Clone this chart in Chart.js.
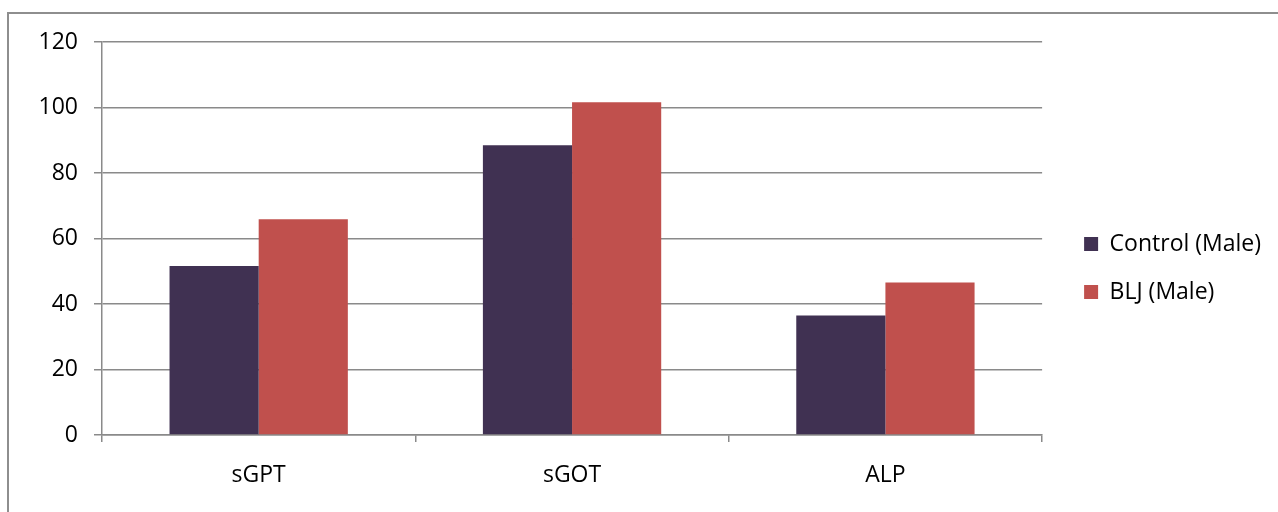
<!DOCTYPE html>
<html>
<head>
<meta charset="utf-8">
<script src="https://cdn.jsdelivr.net/npm/chart.js@4/dist/chart.umd.min.js"></script>
<style>
  body { margin: 0; background: #fff; }
  #frame { position: absolute; left: 7px; top: 12px; width: 1300px; height: 600px; border: 2px solid #8e8e8e; }
  #wrap { position: absolute; left: 0; top: 0; width: 1278px; height: 512px; }
</style>
</head>
<body>
<div id="frame"></div>
<div id="wrap"><canvas id="my_chart"></canvas></div>
<script>
// categories and series
const categories = ['sGPT', 'sGOT', 'ALP'];
const controlMale = [51.6, 88.5, 36.5];
const bljMale = [65.9, 101.6, 46.6];
const seriesNames = ['Control (Male)', 'BLJ (Male)'];
const yTicks = [0, 20, 40, 60, 80, 100, 120];

const FONT = "'Open Sans'";
const gridColor = '#8a8a8a';
const LEGEND_GAP = 42;   // plot edge to legend box
const LEGEND_SHIFT_Y = -9;

// nudge the legend a bit away from the plot, like the original
const legendNudge = {
    id: 'legendNudge',
    afterLayout: function (chart) {
        var lg = chart.legend;
        var pad = lg.options.labels.padding;
        var dx = chart.chartArea.right + LEGEND_GAP - pad - lg.left;
        lg.left += dx; lg.right += dx;
        lg.top += LEGEND_SHIFT_Y; lg.bottom += LEGEND_SHIFT_Y;
    }
};

var ctx = document.getElementById('my_chart').getContext('2d');
let chart = new Chart(ctx, {
    type: 'bar',
    data: {
        labels: categories,
        datasets: [
            {
                label: seriesNames[0],
                data: controlMale,
                backgroundColor: '#403152',
                borderWidth: 0
            },
            {
                label: seriesNames[1],
                data: bljMale,
                backgroundColor: '#C0504D',
                borderWidth: 0
            }
        ]
    },
    plugins: [legendNudge],
    options: {
        responsive: true,
        maintainAspectRatio: false,
        animation: false,
        layout: {
            padding: { left: 39, right: 24, top: 42, bottom: 0 }
        },
        datasets: {
            bar: { categoryPercentage: 0.569, barPercentage: 1.0 }
        },
        plugins: {
            legend: {
                position: 'right',
                labels: {
                    boxWidth: 14,
                    boxHeight: 14,
                    padding: 25,
                    color: '#000',
                    font: { family: FONT, size: 23 }
                }
            },
            tooltip: { enabled: false }
        },
        scales: {
            x: {
                offset: true,
                afterFit: function (axis) { axis.height = 77; },
                grid: {
                    offset: true,
                    drawOnChartArea: false,
                    drawTicks: true,
                    tickLength: 7,
                    color: gridColor,
                    lineWidth: 1.5
                },
                border: { color: gridColor, width: 1.5 },
                ticks: {
                    color: '#000',
                    padding: 20,
                    font: { family: FONT, size: 23 }
                }
            },
            y: {
                min: 0,
                max: 120,
                afterBuildTicks: function (axis) {
                    axis.ticks = yTicks.map(v => ({ value: v }));
                },
                afterFit: function (axis) { axis.width = 63; },
                grid: {
                    color: gridColor,
                    lineWidth: 1.5,
                    tickLength: 8
                },
                border: { color: gridColor, width: 1.5 },
                ticks: {
                    color: '#000',
                    padding: 16,
                    font: { family: FONT, size: 23 }
                }
            }
        }
    }
});
</script>
</body>
</html>
